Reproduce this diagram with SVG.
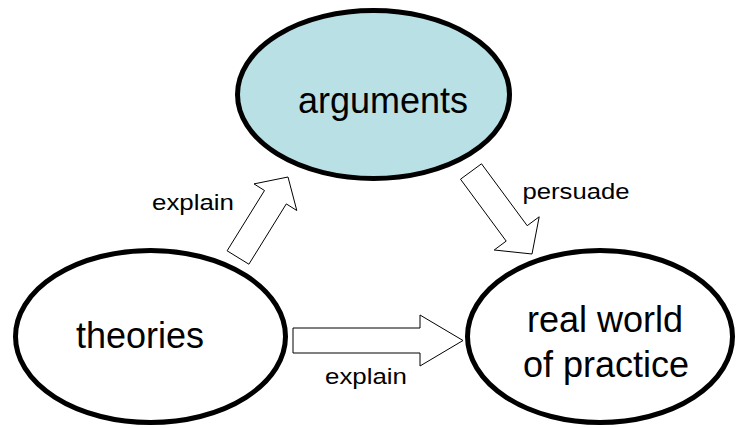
<svg xmlns="http://www.w3.org/2000/svg" width="736" height="428" viewBox="0 0 736 428">
<style>
.node{stroke:#000;stroke-width:5}
.big{font-family:"Liberation Sans",Arial,sans-serif;font-size:36px;fill:#000}
.small{font-family:"Liberation Sans",Arial,sans-serif;font-size:22px;fill:#000}
.arrow{fill:#fff;stroke:#000;stroke-width:1;stroke-linejoin:miter}
</style>
<rect width="736" height="428" fill="#fff"/>
<g id="connectors">
<polygon class="arrow" points="227.1,250.8 264.5,190.5 254,183.9 288,177 296.8,210.5 286.3,203.9 248.9,264.2"/>
<polygon class="arrow" points="481.5,163.8 527.2,225.7 539.2,216.8 532,254 494.2,250 506.2,241.1 460.5,179.2"/>
<polygon class="arrow" points="293,328 420,328 420,315 463,340.5 420,366 420,353 293,353"/>
<text class="small" x="193" y="210" text-anchor="middle" textLength="82" lengthAdjust="spacingAndGlyphs">explain</text>
<text class="small" x="366" y="384" text-anchor="middle" textLength="82" lengthAdjust="spacingAndGlyphs">explain</text>
<text class="small" x="576" y="199" text-anchor="middle" textLength="107" lengthAdjust="spacingAndGlyphs">persuade</text>
</g>
<g id="arguments">
<ellipse class="node" cx="373.5" cy="94.5" rx="136" ry="84" fill="#b9e0e4"/>
<text class="big" x="383" y="113" text-anchor="middle">arguments</text>
</g>
<g id="theories">
<ellipse class="node" cx="150.5" cy="336.5" rx="135" ry="86" fill="#fff"/>
<text class="big" x="140" y="348" text-anchor="middle">theories</text>
</g>
<g id="real-world">
<ellipse class="node" cx="600" cy="336.5" rx="132.5" ry="86" fill="#fff"/>
<text class="big" x="605" y="332" text-anchor="middle">real world</text>
<text class="big" x="606" y="377" text-anchor="middle">of practice</text>
</g>
</svg>
